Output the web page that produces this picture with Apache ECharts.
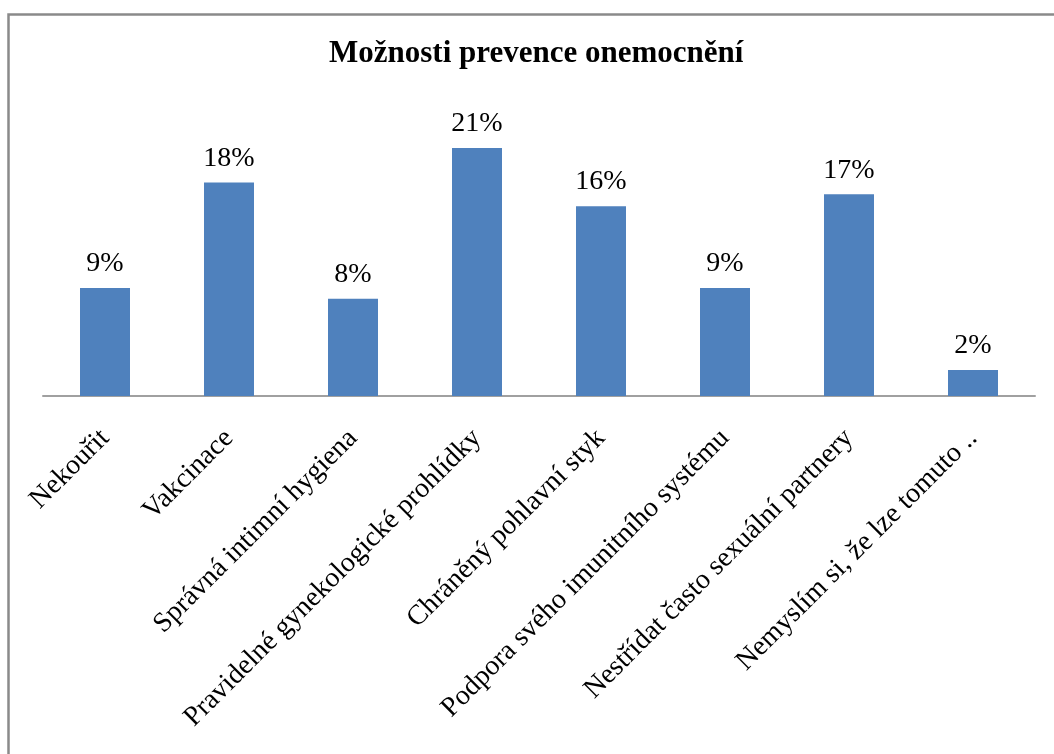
<!DOCTYPE html>
<html>
<head>
<meta charset="utf-8">
<script src="https://cdn.jsdelivr.net/npm/echarts@6/dist/echarts.min.js"></script>
<style>
html,body{margin:0;padding:0;background:#fff;}
#chart{width:1054px;height:754px;}
</style>
</head>
<body>
<div id="chart"></div>
<script>
const titleText = 'Možnosti prevence onemocnění';
const categories = [
  'Nekouřit',
  'Vakcinace',
  'Správná intimní hygiena',
  'Pravidelné gynekologické prohlídky',
  'Chráněný pohlavní styk',
  'Podpora svého imunitního systému',
  'Nestřídat často sexuální partnery',
  'Nemyslím si, že lze tomuto ..'
];
const values = [9.1, 18.0, 8.2, 20.9, 16.0, 9.1, 17.0, 2.2];
const valueLabels = ['9%', '18%', '8%', '21%', '16%', '9%', '17%', '2%'];

const serif = '"Liberation Serif", "Times New Roman", serif';
const chart = echarts.init(document.getElementById('chart'));
chart.setOption({
  backgroundColor: '#ffffff',
  animation: false,
  graphic: [{
    type: 'rect',
    shape: { x: 8.5, y: 14.5, width: 1200, height: 900 },
    style: { fill: 'none', stroke: '#8a8a8a', lineWidth: 2.5 },
    silent: true
  }],
  title: {
    text: titleText,
    left: 324,
    top: 33,
    textStyle: { fontFamily: serif, fontWeight: 'bold', fontSize: 31, color: '#000' }
  },
  grid: { left: 43, right: 19, top: 40, bottom: 358, containLabel: false },
  xAxis: {
    type: 'category',
    data: categories,
    axisLine: { show: true, lineStyle: { color: '#a0a0a0', width: 2 } },
    axisTick: { show: false },
    axisLabel: {
      interval: 0,
      rotate: 45,
      margin: 38,
      fontFamily: serif,
      fontSize: 28,
      color: '#000'
    }
  },
  yAxis: {
    type: 'value',
    min: 0,
    max: 30,
    show: false,
    splitLine: { show: false }
  },
  series: [{
    type: 'bar',
    data: values,
    barWidth: 50,
    itemStyle: { color: '#4F81BD' },
    label: {
      show: true,
      position: 'top',
      distance: 10,
      fontFamily: serif,
      fontSize: 28,
      color: '#000',
      formatter: p => valueLabels[p.dataIndex]
    }
  }]
});
</script>
</body>
</html>
